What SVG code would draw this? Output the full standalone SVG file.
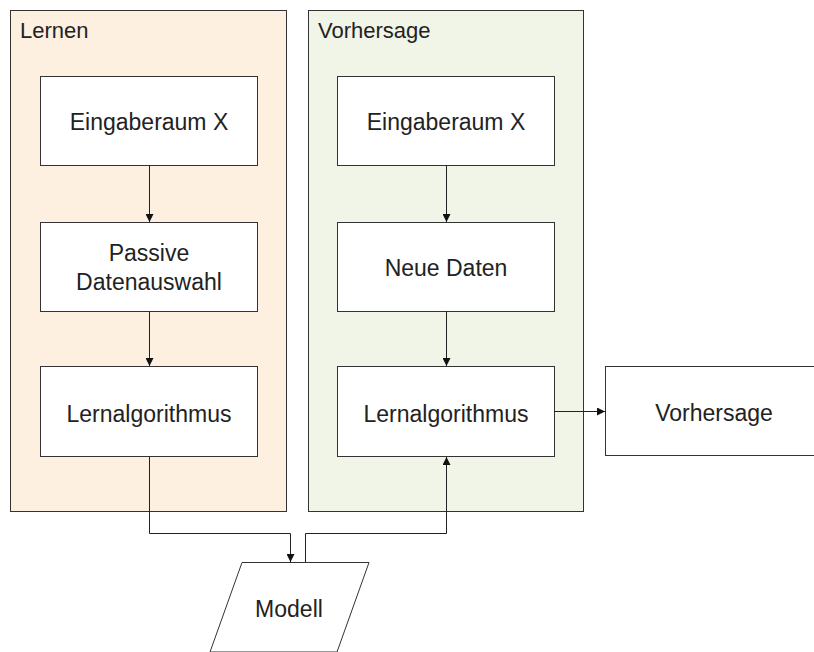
<svg xmlns="http://www.w3.org/2000/svg" width="814" height="652" viewBox="0 0 814 652">
<defs>
<style>
text{font-family:"Liberation Sans",Arial,sans-serif;font-size:23px;fill:#222}
.c{text-anchor:middle}
.box{fill:#fff;stroke:#333;stroke-width:1}
.edge{fill:none;stroke:#222;stroke-width:1}
</style>
<marker id="ah" viewBox="0 0 10 10" refX="10" refY="5" markerWidth="8" markerHeight="8" markerUnits="userSpaceOnUse" orient="auto">
<path d="M0,0 L10,5 L0,10 Z" fill="#111"/>
</marker>
</defs>
<rect width="814" height="652" fill="#fff"/>
<g id="lernen">
<rect x="10.5" y="10.5" width="276" height="501" fill="#fdf0e1" stroke="#333"/>
<text x="20" y="38" style="font-size:22px">Lernen</text>
</g>
<g id="vorhersage-group">
<rect x="308.5" y="10.5" width="275" height="501" fill="#f1f5e7" stroke="#333"/>
<text x="318" y="38" style="font-size:22px">Vorhersage</text>
</g>
<g id="l-eingabe"><rect class="box" x="40.5" y="76.5" width="217" height="89"/><text class="c" x="149" y="129.5">Eingaberaum X</text></g>
<g id="l-passive"><rect class="box" x="40.5" y="222.5" width="217" height="89"/><text class="c" x="149" y="261">Passive</text><text class="c" x="149" y="289.5">Datenauswahl</text></g>
<g id="l-algo"><rect class="box" x="40.5" y="366.5" width="217" height="90"/><text class="c" x="149" y="421.5">Lernalgorithmus</text></g>
<g id="r-eingabe"><rect class="box" x="337.5" y="76.5" width="217" height="89"/><text class="c" x="446" y="129.5">Eingaberaum X</text></g>
<g id="r-neue"><rect class="box" x="337.5" y="222.5" width="217" height="89"/><text class="c" x="446" y="275.5">Neue Daten</text></g>
<g id="r-algo"><rect class="box" x="337.5" y="366.5" width="217" height="90"/><text class="c" x="446" y="421.5">Lernalgorithmus</text></g>
<g id="out"><rect class="box" x="605.5" y="366.5" width="220" height="89"/><text class="c" x="714" y="420.5">Vorhersage</text></g>
<g id="modell"><polygon class="box" points="242,562.5 369,562.5 337,652 210,652"/><text class="c" x="289" y="616.5">Modell</text></g>
<g id="connectors">
<path class="edge" d="M149.5,165 V222" marker-end="url(#ah)"/>
<path class="edge" d="M149.5,311 V366" marker-end="url(#ah)"/>
<path class="edge" d="M446.5,165 V222" marker-end="url(#ah)"/>
<path class="edge" d="M446.5,311 V366" marker-end="url(#ah)"/>
<path class="edge" d="M554,411.5 H605" marker-end="url(#ah)"/>
<path class="edge" d="M149.5,457 V533.5 H290.5 V562" marker-end="url(#ah)"/>
<path class="edge" d="M305.5,562 V533.5 H446.5 V457" marker-end="url(#ah)"/>
</g>
</svg>
